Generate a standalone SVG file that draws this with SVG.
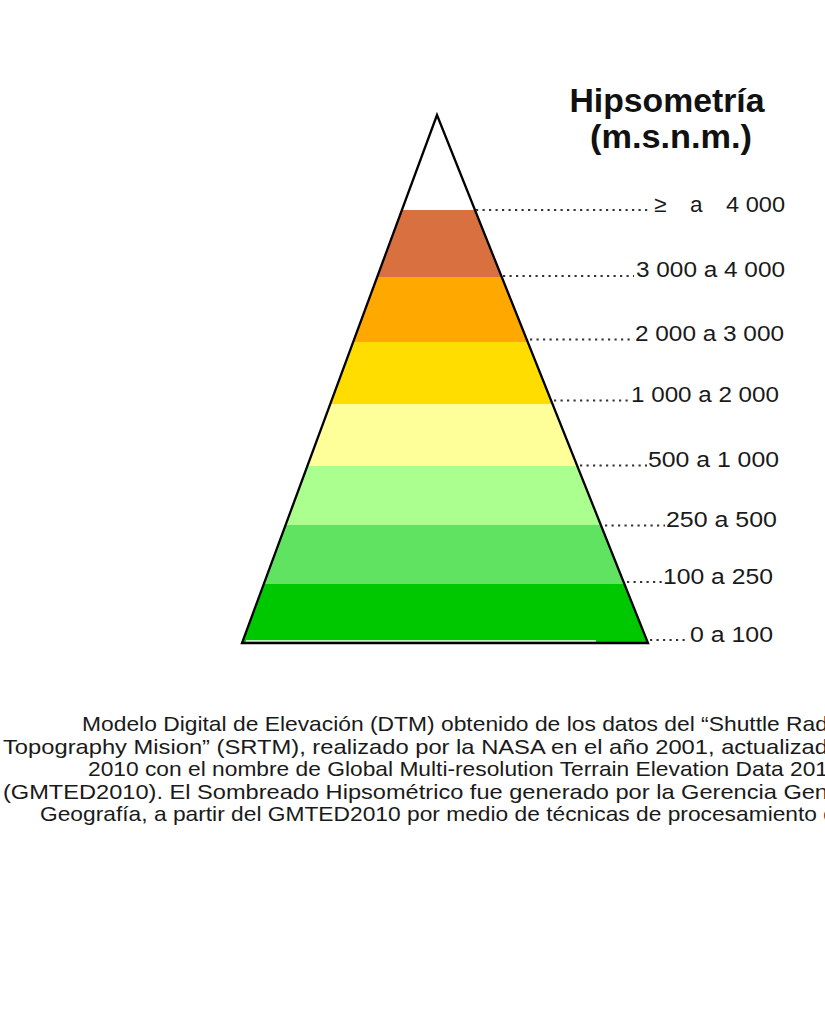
<svg xmlns="http://www.w3.org/2000/svg" width="825" height="1016" viewBox="0 0 825 1016">
<style>
.t{font-family:"Liberation Sans",Arial,sans-serif;fill:#1a1a1a}
.title{font-size:34px;font-weight:bold;fill:#111}
.lab{font-size:22.5px}
.par{font-size:21px}
.lead{stroke:#333;stroke-width:2.2;stroke-dasharray:2.2 4.3;fill:none}
</style>
<defs>
<clipPath id="tri"><polygon points="437,115 242,643 648,643"/></clipPath>
</defs>
<rect width="825" height="1016" fill="#fff"/>
<g id="title" class="t title">
<text x="667" y="112" text-anchor="middle" textLength="195" lengthAdjust="spacingAndGlyphs">Hipsometría</text>
<text x="671" y="148" text-anchor="middle" textLength="162" lengthAdjust="spacingAndGlyphs">(m.s.n.m.)</text>
</g>
<g id="pyramid">
<g clip-path="url(#tri)">
<rect x="230" y="100" width="430" height="110" fill="#fff"/>
<rect x="230" y="210" width="430" height="67" fill="#D87040"/>
<rect x="230" y="277" width="430" height="65" fill="#FFA800"/>
<rect x="230" y="342" width="430" height="62" fill="#FFDD00"/>
<rect x="230" y="404" width="430" height="62" fill="#FFFF99"/>
<rect x="230" y="466" width="430" height="59" fill="#ABFF8F"/>
<rect x="230" y="525" width="430" height="59" fill="#5FE360"/>
<rect x="230" y="584" width="430" height="60" fill="#00C800"/>
<line x1="246" y1="641" x2="596" y2="641" stroke="#fff" stroke-width="1.3"/>
</g>
<polygon points="437,115 242,643 648,643" fill="none" stroke="#000" stroke-width="2.3" stroke-linejoin="miter"/>
</g>
<g id="connectors">
<line class="lead" x1="476" y1="210" x2="651" y2="210"/>
<line class="lead" x1="503" y1="276" x2="634" y2="276"/>
<line class="lead" x1="530" y1="339.5" x2="632" y2="339.5"/>
<line class="lead" x1="554" y1="400.5" x2="629" y2="400.5"/>
<line class="lead" x1="580" y1="465.5" x2="647" y2="465.5"/>
<line class="lead" x1="605" y1="525.5" x2="665" y2="525.5"/>
<line class="lead" x1="627" y1="582" x2="662" y2="582"/>
<line class="lead" x1="650" y1="640" x2="689" y2="640"/>
</g>
<g id="label-4000" class="t lab">
<text y="211.5"><tspan x="654">≥</tspan><tspan x="690">a</tspan><tspan x="726" textLength="59" lengthAdjust="spacingAndGlyphs">4 000</tspan></text>
</g>
<g id="label-3000" class="t lab"><text x="636" y="277" textLength="149" lengthAdjust="spacingAndGlyphs">3 000 a 4 000</text></g>
<g id="label-2000" class="t lab"><text x="635" y="341" textLength="149" lengthAdjust="spacingAndGlyphs">2 000 a 3 000</text></g>
<g id="label-1000" class="t lab"><text x="631" y="402" textLength="148" lengthAdjust="spacingAndGlyphs">1 000 a 2 000</text></g>
<g id="label-500" class="t lab"><text x="648" y="467" textLength="131" lengthAdjust="spacingAndGlyphs">500 a 1 000</text></g>
<g id="label-250" class="t lab"><text x="666" y="527" textLength="111" lengthAdjust="spacingAndGlyphs">250 a 500</text></g>
<g id="label-100" class="t lab"><text x="663" y="583.5" textLength="110" lengthAdjust="spacingAndGlyphs">100 a 250</text></g>
<g id="label-0" class="t lab"><text x="690" y="641.5" textLength="83" lengthAdjust="spacingAndGlyphs">0 a 100</text></g>
<g id="paragraph" class="t par">
<text x="82" y="731" textLength="746" lengthAdjust="spacingAndGlyphs">Modelo Digital de Elevación (DTM) obtenido de los datos del “Shuttle Rad</text>
<text x="3" y="753.5" textLength="825" lengthAdjust="spacingAndGlyphs">Topography Mision” (SRTM), realizado por la NASA en el año 2001, actualizad</text>
<text x="88" y="776" textLength="740" lengthAdjust="spacingAndGlyphs">2010 con el nombre de Global Multi-resolution Terrain Elevation Data 201</text>
<text x="3" y="798.5" textLength="825" lengthAdjust="spacingAndGlyphs">(GMTED2010). El Sombreado Hipsométrico fue generado por la Gerencia Gen</text>
<text x="40" y="821" textLength="796" lengthAdjust="spacingAndGlyphs">Geografía, a partir del GMTED2010 por medio de técnicas de procesamiento d</text>
</g>
</svg>
